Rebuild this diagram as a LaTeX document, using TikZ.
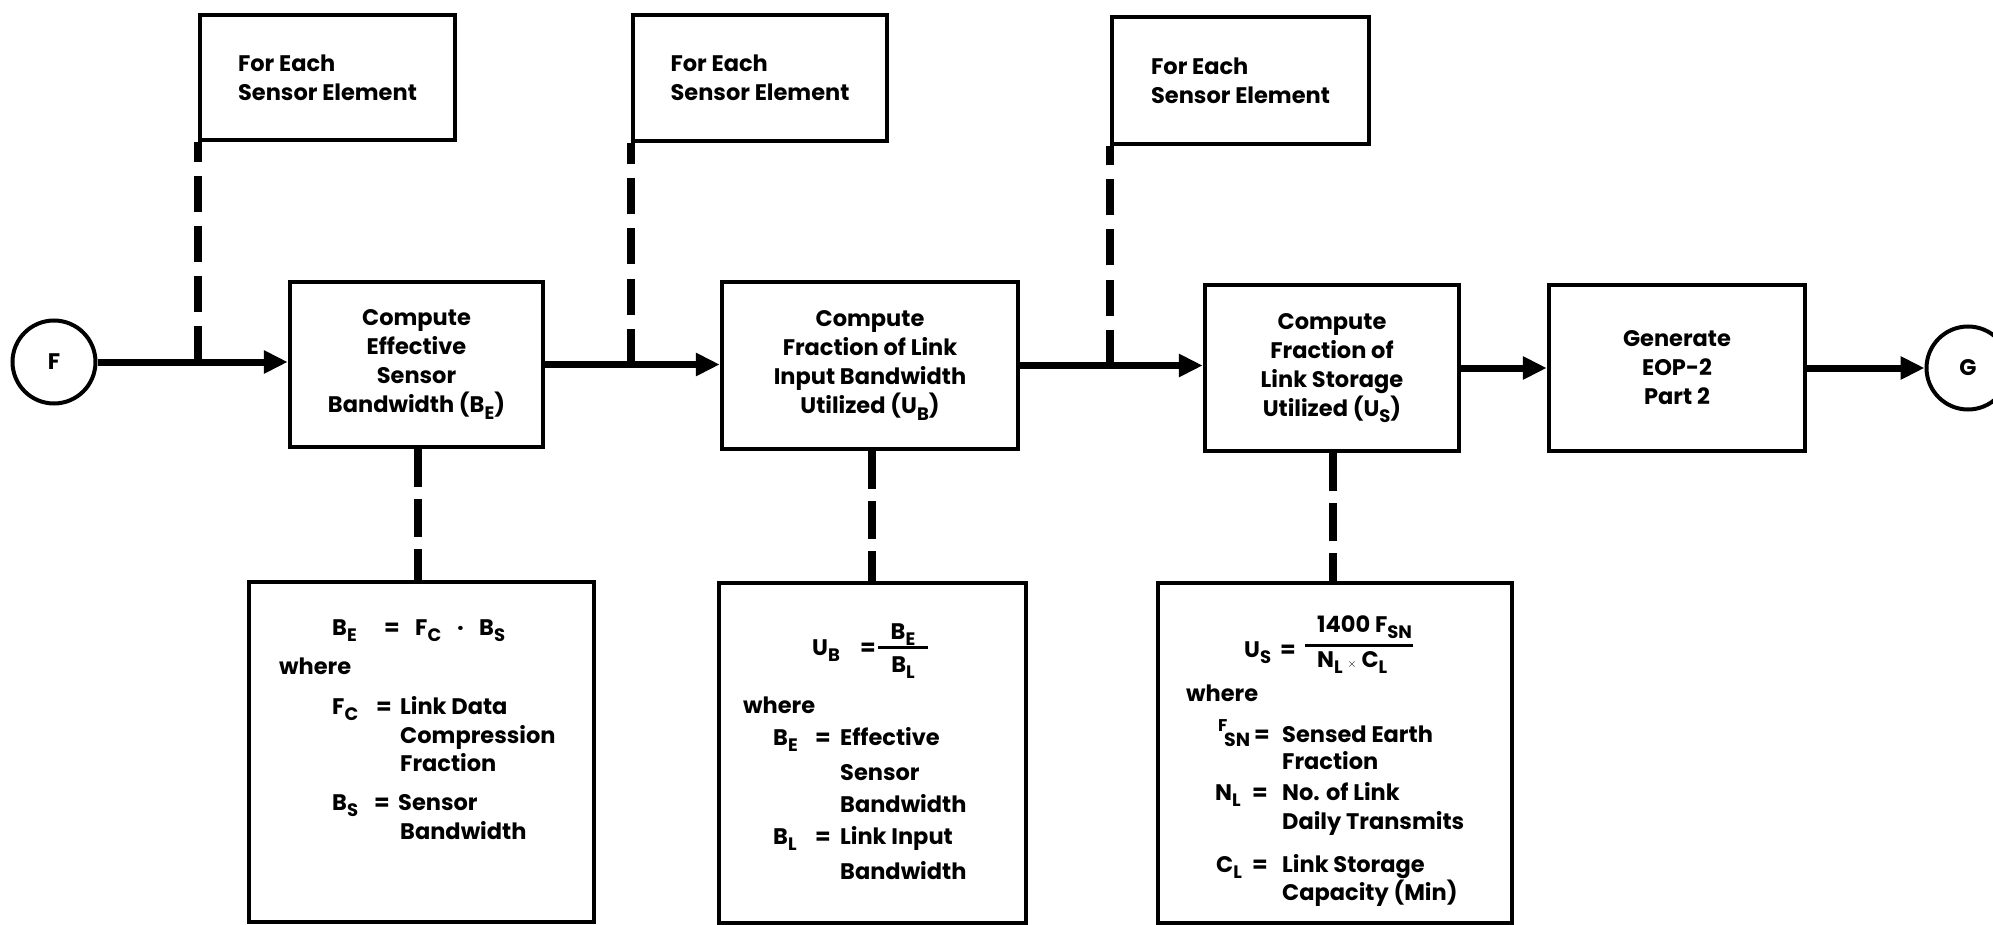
\documentclass[tikz,border=0pt]{standalone}
\usepackage{fontspec}
\setmainfont{Poppins}
\usetikzlibrary{arrows.meta}
% lowered capital subscript, as in B_E
\newcommand\lsub[1]{\raisebox{-0.28em}{\fontsize{18}{18}\selectfont #1}}
\begin{document}
\begin{tikzpicture}[x=1pt,y=-1pt,
  every node/.style={font=\fontsize{22.5}{29}\selectfont\bfseries},
  box/.style={draw, line width=4.5pt, rectangle, inner sep=0pt, align=center},
  term/.style={draw, circle, line width=4pt, minimum size=83pt, inner sep=0pt},
  flow/.style={line width=7pt, -{Triangle[length=24pt,width=22pt]}},
  link/.style={line width=7.5pt, dash pattern=on 36pt off 14pt},
  sublink/.style={line width=7.5pt, dash pattern=on 38pt off 12pt},
  txt/.style={anchor=base west, inner sep=0pt},
  ctr/.style={anchor=base, inner sep=0pt},
  bar/.style={line width=3pt},
]
\useasboundingbox (0,0) rectangle (1993,925);

% main flow
\node[term] (F) at (54,362) {F};
\node[box, minimum width=253pt, minimum height=165pt] (c1) at (416.5,364.5)
  {Compute\\Effective\\Sensor\\Bandwidth (B\lsub{E})};
\node[box, minimum width=296pt, minimum height=167pt] (c2) at (870,365.5)
  {Compute\\Fraction of Link\\Input Bandwidth\\Utilized (U\lsub{B})};
\node[box, minimum width=254pt, minimum height=166pt] (c3) at (1332,368)
  {Compute\\Fraction of\\Link Storage\\Utilized (U\lsub{S})};
\node[box, minimum width=256pt, minimum height=166pt] (gen) at (1677,368)
  {Generate\\EOP-2\\Part 2};
\node[term] (G) at (1968,368) {G};

\draw[flow] (F.east) -- (F.east -| c1.west);
\draw[flow] (c1.east) -- (c1.east -| c2.west);
\draw[flow] (c2.east) -- (c2.east -| c3.west);
\draw[flow] (c3.east) -- (gen.west);
\draw[flow] (gen.east) -- (G.west);

% loop annotations above the flow
\node[box, align=left, minimum width=255pt, minimum height=125pt] (t1) at (327.5,77.5)
  {For Each\\Sensor Element};
\node[box, align=left, minimum width=254pt, minimum height=126pt] (t2) at (760,78)
  {For Each\\Sensor Element};
\node[box, align=left, minimum width=257pt, minimum height=127pt] (t3) at (1240.5,80.5)
  {For Each\\Sensor Element};

\coordinate (j1) at (t1.south west |- F.east);
\coordinate (j2) at (t2.south west |- c1.east);
\coordinate (j3) at (t3.south west |- c2.east);
\draw[link] (j1) -- (t1.south west);
\draw[link] (j2) -- (t2.south west);
\draw[link] (j3) -- (t3.south west);

% definition boxes below the flow
\node[box, minimum width=345pt, minimum height=340pt] (b1) at (421.5,752) {};
\node[box, minimum width=307pt, minimum height=340pt] (b2) at (872.5,753) {};
\node[box, minimum width=354pt, minimum height=340pt] (b3) at (1335,753) {};

\draw[sublink] ([xshift=1.5pt]c1.south) -- ([xshift=1.5pt]c1.south |- b1.north);
\draw[sublink] ([xshift=2pt]c2.south) -- ([xshift=2pt]c2.south |- b2.north);
\draw[sublink] ([xshift=1pt]c3.south) -- ([xshift=1pt]c3.south |- b3.north);

% B_E definitions
\node[txt] (b1f1) at (332,635) {B\lsub{E}};
\node[txt] (b1f2) at (384,635) {=};
\node[txt] (b1f3) at (415,635) {F\lsub{C}};
\node[txt] (b1f4) at (457,635) {·};
\node[txt] (b1f5) at (479,635) {B\lsub{S}};
\node[txt] (b1w) at (279,674) {where};
\node[txt] (b1a) at (332,714) {F\lsub{C}};
\node[txt] (b1ae) at (376,714) {=};
\node[txt] (b1a1) at (400,714) {Link Data};
\node[txt] (b1a2) at (400,743) {Compression};
\node[txt] (b1a3) at (400,771) {Fraction};
\node[txt] (b1b) at (332,810) {B\lsub{S}};
\node[txt] (b1be) at (374,810) {=};
\node[txt] (b1b1) at (398,810) {Sensor};
\node[txt] (b1b2) at (400,839) {Bandwidth};

% U_B definitions
\node[txt] (b2u) at (812,655) {U\lsub{B}};
\node[txt] (b2ue) at (860,655) {=};
\node[ctr] (b2n) at (903,639) {B\lsub{E}};
\node[ctr] (b2d) at (903,672) {B\lsub{L}};
\draw[bar] (878,647) -- (928,647);
\node[txt] (b2w) at (743,713) {where};
\node[txt] (b2a) at (773,745) {B\lsub{E}};
\node[txt] (b2ae) at (815,745) {=};
\node[txt] (b2a1) at (840,745) {Effective};
\node[txt] (b2a2) at (840,780) {Sensor};
\node[txt] (b2a3) at (840,812) {Bandwidth};
\node[txt] (b2b) at (773,844) {B\lsub{L}};
\node[txt] (b2be) at (815,844) {=};
\node[txt] (b2b1) at (840,844) {Link Input};
\node[txt] (b2b2) at (840,879) {Bandwidth};

% U_S definitions
\node[txt] (b3u) at (1244,657) {U\lsub{S}};
\node[txt] (b3ue) at (1280,657) {=};
\node[txt] (b3n) at (1317,632) {1400 F\lsub{SN}};
\node[txt] (b3d) at (1317,667) {N\lsub{L} {\fontsize{13}{13}\selectfont$\times$} C\lsub{L}};
\draw[bar] (1305,645) -- (1413,645);
\node[txt] (b3w) at (1186,701) {where};
\node[txt, font=\fontsize{17}{17}\selectfont\bfseries] (b3a0) at (1218,731) {F};
\node[txt, font=\fontsize{19}{19}\selectfont\bfseries] (b3a) at (1224,746) {SN};
\node[txt] (b3ae) at (1254,742) {=};
\node[txt] (b3a1) at (1282,742) {Sensed Earth};
\node[txt] (b3a2) at (1282,769) {Fraction};
\node[txt] (b3b) at (1215,800) {N\lsub{L}};
\node[txt] (b3be) at (1252,800) {=};
\node[txt] (b3b1) at (1282,800) {No. of Link};
\node[txt] (b3b2) at (1282,829) {Daily Transmits};
\node[txt] (b3c) at (1216,872) {C\lsub{L}};
\node[txt] (b3ce) at (1252,872) {=};
\node[txt] (b3c1) at (1282,872) {Link Storage};
\node[txt] (b3c2) at (1282,900) {Capacity (Min)};
\end{tikzpicture}
\end{document}
